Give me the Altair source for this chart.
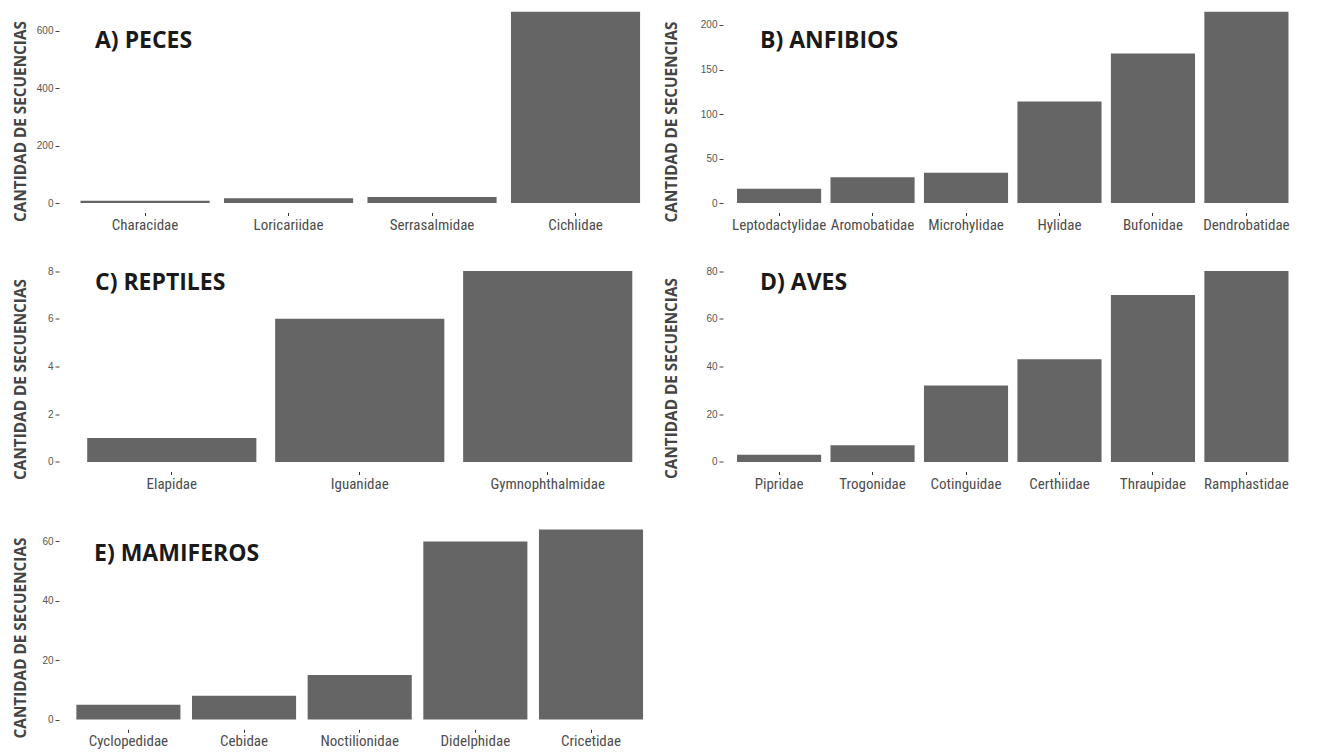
import altair as alt
import pandas as pd

# ---------------- data ----------------
peces_fam = ["Characidae", "Loricariidae", "Serrasalmidae", "Cichlidae"]
peces_n = [8, 17, 21, 667]

anfibios_fam = ["Leptodactylidae", "Aromobatidae", "Microhylidae", "Hylidae", "Bufonidae", "Dendrobatidae"]
anfibios_n = [16, 29, 34, 114, 168, 215]

reptiles_fam = ["Elapidae", "Iguanidae", "Gymnophthalmidae"]
reptiles_n = [1, 6, 8]

aves_fam = ["Pipridae", "Trogonidae", "Cotinguidae", "Certhiidae", "Thraupidae", "Ramphastidae"]
aves_n = [3, 7, 32, 43, 70, 80]

mamiferos_fam = ["Cyclopedidae", "Cebidae", "Noctilionidae", "Didelphidae", "Cricetidae"]
mamiferos_n = [5, 8, 15, 60, 64]

titles = ["A) PECES", "B) ANFIBIOS", "C) REPTILES", "D) AVES", "E) MAMIFEROS"]
y_title = "CANTIDAD DE SECUENCIAS"

BAR = "#656565"
XFONT = "Liberation Sans Narrow, Roboto Condensed, Liberation Sans"
YFONT = "Liberation Sans"
TFONT = "Open Sans"


def panel(cats, vals, title, W, H, dom, ticks, tdx, tdy, ytx, yty):
    df = pd.DataFrame({"familia": cats, "n": vals})
    bars = alt.Chart(df).mark_bar(color=BAR).encode(
        x=alt.X(
            "familia:N",
            sort=cats,
            scale=alt.Scale(paddingInner=0.1, paddingOuter=0.15),
            axis=alt.Axis(
                title=None, labelAngle=0, labelFont=XFONT, labelFontSize=15,
                labelColor="#4d4d4d", tickSize=3, tickColor="#333333",
                domain=False, grid=False, labelPadding=1.5,
            ),
        ),
        y=alt.Y(
            "n:Q",
            scale=alt.Scale(domain=dom, nice=False, zero=False),
            axis=alt.Axis(
                title=y_title, values=ticks, format="d",
                titleFont=TFONT, titleFontSize=15.3, titleFontWeight="bold",
                titleColor="#444444", titleX=ytx, titleY=yty,
                titleBaseline="middle", titleAlign="center", titleAngle=270,
                labelFont=YFONT, labelFontSize=10, labelColor="#555555",
                tickSize=4, tickColor="#444444", domain=False, grid=False,
                labelPadding=2,
            ),
        ),
        y2=alt.datum(0),
    )
    lab = alt.Chart(pd.DataFrame({"t": [title]})).mark_text(
        font=TFONT, fontSize=23, fontWeight="bold", color="#1a1a1a",
        align="left", baseline="alphabetic",
    ).encode(x=alt.value(tdx), y=alt.value(tdy), text="t:N")
    return alt.layer(bars, lab).properties(width=W, height=H)


LEFT_TX = -38.35
RIGHT_TX = -51.75

pA = panel(peces_fam, peces_n, titles[0], 602.6, 204.5, [-33.1, 680.2],
           [0, 200, 400, 600], 36, 40, LEFT_TX, 113)
pB = panel(anfibios_fam, anfibios_n, titles[1], 579.5, 204.5, [-10.67, 219.1],
           [0, 50, 100, 150, 200], 37, 40, RIGHT_TX, 113.5)
pC = panel(reptiles_fam, reptiles_n, titles[2], 601.5, 210, [-0.4, 8.4],
           [0, 2, 4, 6, 8], 36, 28.5, LEFT_TX, 117.5)
pD = panel(aves_fam, aves_n, titles[3], 579.5, 210, [-4, 84],
           [0, 20, 40, 60, 80], 37, 28.5, RIGHT_TX, 116.5)
pE = panel(mamiferos_fam, mamiferos_n, titles[4], 601.4, 208.3, [-3.3, 66.9],
           [0, 20, 40, 60], 35, 39.5, LEFT_TX, 116.5)

chart = alt.concat(
    pA, pB, pC, pD, pE,
    columns=2,
    spacing={"row": 29.5, "column": 2},
).properties(
    padding={"left": 5, "top": 0, "right": 0, "bottom": 0},
    background="white",
).configure_view(strokeWidth=0, stroke="transparent")

chart.save("out.html", embed_options={"renderer": "svg", "actions": False})
